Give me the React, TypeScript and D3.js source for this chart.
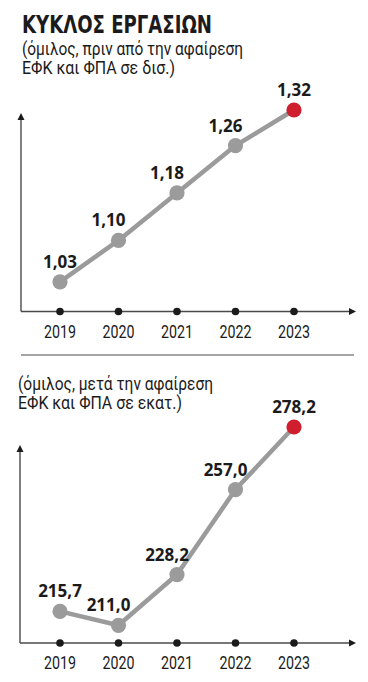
import React from 'react';
import * as d3 from 'd3';

// data
const years = ['2019', '2020', '2021', '2022', '2023'];
const revenueBn = [1.03, 1.1, 1.18, 1.26, 1.32]; // before excise & VAT, bn
const revenueMn = [215.7, 211.0, 228.2, 257.0, 278.2]; // after excise & VAT, mn

const title = 'ΚΥΚΛΟΣ ΕΡΓΑΣΙΩΝ';
const subtitleTop = ['(όμιλος, πριν από την αφαίρεση', 'ΕΦΚ και ΦΠΑ σε δισ.)'];
const subtitleBottom = ['(όμιλος, μετά την αφαίρεση', 'ΕΦΚ και ΦΠΑ σε εκατ.)'];

const W = 368;
const H = 682;
const GREY = '#9b9b9b';
const RED = '#cf1f2e';
const INK = '#1b1b1b';
const AXIS = '#4a4a4a';

const el = d3.formatLocale({ decimal: ',', thousands: '.', grouping: [3], currency: ['', '€'] });

const Panel = ({ values, fmt, domain, yRange, axisX, top }) => {
  const x = d3.scalePoint().domain(years).range([60, 294]);
  const y = d3.scaleLinear().domain(domain).range(yRange);
  const base = yRange[0];
  const line = d3.line<number>()
    .x((d, i) => x(years[i]))
    .y(d => y(d));
  const n = values.length;

  return (
    <g>
      {/* axes */}
      <line x1={axisX} x2={axisX} y1={top + 5} y2={base} stroke={AXIS} strokeWidth={1.4} />
      <path d={`M${axisX - 3.5},${top + 7} L${axisX},${top} L${axisX + 3.5},${top + 7} Z`} fill={INK} />
      <line x1={axisX} x2={350} y1={base} y2={base} stroke={AXIS} strokeWidth={1.4} />
      <path d={`M349,${base - 3.5} L356,${base} L349,${base + 3.5} Z`} fill={INK} />

      {years.map(yr => (
        <g key={yr}>
          <circle cx={x(yr)} cy={base} r={3.8} fill={INK} />
          <text
            x={x(yr)}
            y={base + 26}
            textAnchor="middle"
            fontFamily="'Liberation Sans Narrow', 'Roboto', sans-serif"
            fontSize={18}
            fill={INK}
            textLength={32}
            lengthAdjust="spacingAndGlyphs"
          >
            {yr}
          </text>
        </g>
      ))}

      <path d={line(values) || ''} fill="none" stroke={GREY} strokeWidth={4.5} strokeLinejoin="round" />

      {values.map((v, i) => (
        <circle key={'p' + i} cx={x(years[i])} cy={y(v)} r={7.6} fill={i === n - 1 ? RED : GREY} />
      ))}

      {values.map((v, i) => (
        <text
          key={'l' + i}
          x={x(years[i]) + (i === 0 || i === n - 1 ? 0 : -10)}
          y={y(v) - 14}
          textAnchor="middle"
          fontFamily="'Open Sans', sans-serif"
          fontWeight={700}
          fontSize={17}
          fill={INK}
        >
          {el.format(fmt)(v)}
        </text>
      ))}
    </g>
  );
};

const Sub = ({ lines, x, y, widths }) => (
  <g>
    {lines.map((t, i) => (
      <text
        key={i}
        x={x}
        y={y + i * 19}
        fontFamily="'Roboto', sans-serif"
        fontSize={17.5}
        fill={INK}
        textLength={widths[i]}
        lengthAdjust="spacingAndGlyphs"
      >
        {t}
      </text>
    ))}
  </g>
);

export default function App() {
  return (
    <svg width={W} height={H} style={{ position: 'absolute', left: 0, top: 0, background: '#fff' }}>
      <text
        x={22}
        y={33}
        fontFamily="'DejaVu Sans Condensed', 'DejaVu Sans', sans-serif"
        fontWeight={700}
        fontSize={25}
        fill={INK}
        textLength={190}
        lengthAdjust="spacingAndGlyphs"
      >
        {title}
      </text>
      <Sub lines={subtitleTop} x={22} y={55} widths={[221, 153]} />

      <Panel values={revenueBn} fmt=".2f" domain={[0.98, 1.32]} yRange={[311.5, 110]} axisX={21} top={113} />

      <line x1={21} x2={354} y1={355} y2={355} stroke={AXIS} strokeWidth={1.2} />

      <Sub lines={subtitleBottom} x={18} y={390} widths={[195, 164]} />

      <Panel values={revenueMn} fmt=".1f" domain={[205, 278.2]} yRange={[643, 427]} axisX={20} top={445} />
    </svg>
  );
}
